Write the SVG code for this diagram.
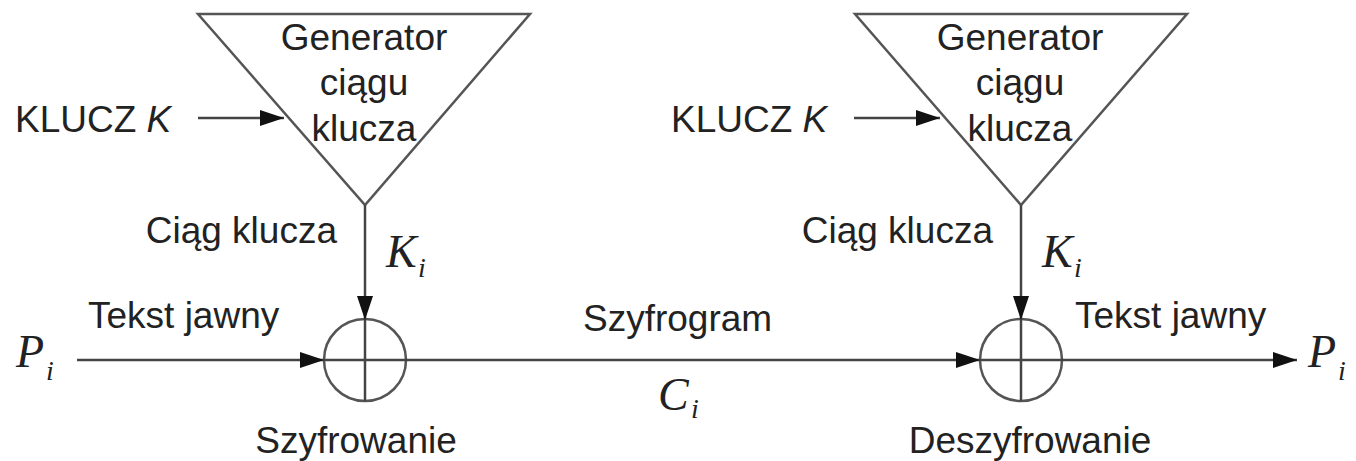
<svg xmlns="http://www.w3.org/2000/svg" width="1356" height="461" viewBox="0 0 1356 461">
<style>
.t{font-family:"Liberation Sans",Arial,sans-serif;font-size:37px;fill:#222}
.m{font-family:"Liberation Serif","Times New Roman",serif;font-style:italic;font-size:46px;fill:#222}
.s{font-family:"Liberation Serif","Times New Roman",serif;font-style:italic;font-size:28px;fill:#222}
.ln{stroke:#444;stroke-width:2.5;fill:none}
.sh{stroke:#555;stroke-width:2.5;fill:#fff}
</style>
<defs>
<marker id="ah" markerUnits="userSpaceOnUse" markerWidth="24" markerHeight="16" refX="24" refY="8" orient="auto">
<path d="M0,0 L24,8 L0,16 z" fill="#111"/>
</marker>
</defs>
<rect width="1356" height="461" fill="#fff"/>
<g id="gen1">
<polygon class="sh" points="198,14 530,14 365,205"/>
<text class="t" x="364" y="50" text-anchor="middle">Generator</text>
<text class="t" x="364" y="95" text-anchor="middle">ciągu</text>
<text class="t" x="364" y="141" text-anchor="middle">klucza</text>
</g>
<g id="gen2">
<polygon class="sh" points="855,14 1187,14 1021,205"/>
<text class="t" x="1020" y="50" text-anchor="middle">Generator</text>
<text class="t" x="1020" y="95" text-anchor="middle">ciągu</text>
<text class="t" x="1020" y="141" text-anchor="middle">klucza</text>
</g>
<g id="xor1">
<circle class="sh" cx="365" cy="360" r="41"/>
<line class="ln" x1="365" y1="319" x2="365" y2="401"/>
<line class="ln" x1="324" y1="360" x2="406" y2="360"/>
</g>
<g id="xor2">
<circle class="sh" cx="1021" cy="360" r="41"/>
<line class="ln" x1="1021" y1="319" x2="1021" y2="401"/>
<line class="ln" x1="980" y1="360" x2="1062" y2="360"/>
</g>
<g id="connectors">
<line class="ln" x1="198" y1="118" x2="284" y2="118" marker-end="url(#ah)"/>
<line class="ln" x1="854" y1="118" x2="940" y2="118" marker-end="url(#ah)"/>
<line class="ln" x1="365" y1="205" x2="365" y2="320" marker-end="url(#ah)"/>
<line class="ln" x1="1021" y1="205" x2="1021" y2="320" marker-end="url(#ah)"/>
<line class="ln" x1="77" y1="360" x2="324" y2="360" marker-end="url(#ah)"/>
<line class="ln" x1="406" y1="360" x2="980" y2="360" marker-end="url(#ah)"/>
<line class="ln" x1="1062" y1="360" x2="1297" y2="360" marker-end="url(#ah)"/>
</g>
<g id="labels">
<text class="t" x="15" y="132">KLUCZ <tspan font-style="italic">K</tspan></text>
<text class="t" x="671" y="132">KLUCZ <tspan font-style="italic">K</tspan></text>
<text class="t" x="337" y="243" text-anchor="end">Ciąg klucza</text>
<text class="t" x="993" y="243" text-anchor="end">Ciąg klucza</text>
<text class="m" x="386" y="267">K</text><text class="s" x="418" y="277">i</text>
<text class="m" x="1042" y="267">K</text><text class="s" x="1074" y="277">i</text>
<text class="t" x="88" y="328">Tekst jawny</text>
<text class="t" x="1075" y="328">Tekst jawny</text>
<text class="t" x="583" y="331">Szyfrogram</text>
<text class="m" x="16" y="367">P</text><text class="s" x="46" y="380">i</text>
<text class="m" x="1308" y="367">P</text><text class="s" x="1338" y="380">i</text>
<text class="m" x="658" y="410">C</text><text class="s" x="691" y="418">i</text>
<text class="t" x="356" y="453" text-anchor="middle">Szyfrowanie</text>
<text class="t" x="1030" y="453" text-anchor="middle">Deszyfrowanie</text>
</g>
</svg>
